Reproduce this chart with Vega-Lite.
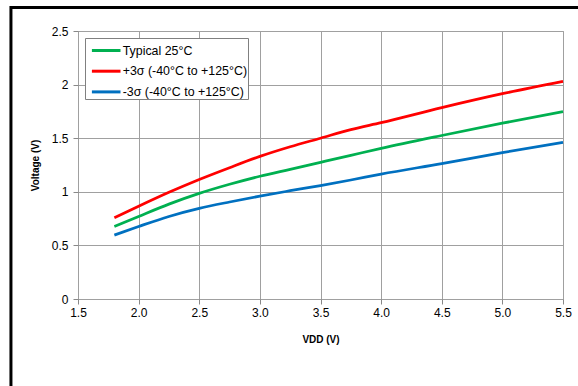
{
  "$schema": "https://vega.github.io/schema/vega-lite/v6.json",
  "autosize": {"type": "none"},
  "padding": {"left": 78, "top": 31, "right": 15, "bottom": 87},
  "width": 485,
  "height": 268,
  "background": "white",
  "config": {
    "font": "Liberation Sans",
    "view": {"stroke": "#a0a0a0", "strokeWidth": 1}
  },
  "data": {
    "values": [
      {"vdd": 1.8, "v": 0.676, "series": "Typical 25°C"},
      {"vdd": 2.0, "v": 0.77, "series": "Typical 25°C"},
      {"vdd": 2.25, "v": 0.885, "series": "Typical 25°C"},
      {"vdd": 2.5, "v": 0.985, "series": "Typical 25°C"},
      {"vdd": 2.75, "v": 1.07, "series": "Typical 25°C"},
      {"vdd": 3.0, "v": 1.145, "series": "Typical 25°C"},
      {"vdd": 3.25, "v": 1.21, "series": "Typical 25°C"},
      {"vdd": 3.5, "v": 1.275, "series": "Typical 25°C"},
      {"vdd": 3.75, "v": 1.34, "series": "Typical 25°C"},
      {"vdd": 4.0, "v": 1.405, "series": "Typical 25°C"},
      {"vdd": 4.5, "v": 1.525, "series": "Typical 25°C"},
      {"vdd": 5.0, "v": 1.64, "series": "Typical 25°C"},
      {"vdd": 5.5, "v": 1.747, "series": "Typical 25°C"},
      {"vdd": 1.8, "v": 0.757, "series": "+3σ (-40°C to +125°C)"},
      {"vdd": 2.0, "v": 0.865, "series": "+3σ (-40°C to +125°C)"},
      {"vdd": 2.25, "v": 0.995, "series": "+3σ (-40°C to +125°C)"},
      {"vdd": 2.5, "v": 1.115, "series": "+3σ (-40°C to +125°C)"},
      {"vdd": 2.75, "v": 1.225, "series": "+3σ (-40°C to +125°C)"},
      {"vdd": 3.0, "v": 1.33, "series": "+3σ (-40°C to +125°C)"},
      {"vdd": 3.25, "v": 1.42, "series": "+3σ (-40°C to +125°C)"},
      {"vdd": 3.5, "v": 1.5, "series": "+3σ (-40°C to +125°C)"},
      {"vdd": 3.75, "v": 1.58, "series": "+3σ (-40°C to +125°C)"},
      {"vdd": 4.0, "v": 1.645, "series": "+3σ (-40°C to +125°C)"},
      {"vdd": 4.5, "v": 1.785, "series": "+3σ (-40°C to +125°C)"},
      {"vdd": 5.0, "v": 1.915, "series": "+3σ (-40°C to +125°C)"},
      {"vdd": 5.5, "v": 2.03, "series": "+3σ (-40°C to +125°C)"},
      {"vdd": 1.8, "v": 0.596, "series": "-3σ (-40°C to +125°C)"},
      {"vdd": 2.0, "v": 0.676, "series": "-3σ (-40°C to +125°C)"},
      {"vdd": 2.25, "v": 0.77, "series": "-3σ (-40°C to +125°C)"},
      {"vdd": 2.5, "v": 0.845, "series": "-3σ (-40°C to +125°C)"},
      {"vdd": 2.75, "v": 0.905, "series": "-3σ (-40°C to +125°C)"},
      {"vdd": 3.0, "v": 0.96, "series": "-3σ (-40°C to +125°C)"},
      {"vdd": 3.25, "v": 1.01, "series": "-3σ (-40°C to +125°C)"},
      {"vdd": 3.5, "v": 1.058, "series": "-3σ (-40°C to +125°C)"},
      {"vdd": 3.75, "v": 1.11, "series": "-3σ (-40°C to +125°C)"},
      {"vdd": 4.0, "v": 1.165, "series": "-3σ (-40°C to +125°C)"},
      {"vdd": 4.5, "v": 1.263, "series": "-3σ (-40°C to +125°C)"},
      {"vdd": 5.0, "v": 1.365, "series": "-3σ (-40°C to +125°C)"},
      {"vdd": 5.5, "v": 1.462, "series": "-3σ (-40°C to +125°C)"}
    ]
  },
  "layer": [
    {
      "mark": {"type": "line", "strokeWidth": 2.75, "interpolate": "monotone"},
      "encoding": {
        "x": {
          "field": "vdd", "type": "quantitative",
          "scale": {"domain": [1.5, 5.5], "nice": false, "zero": false},
          "axis": {
            "title": "VDD (V)", "values": [1.5, 2, 2.5, 3, 3.5, 4, 4.5, 5, 5.5],
            "format": ".1f", "labelFontSize": 12, "labelColor": "#000", "labelFlush": false,
            "labelPadding": 3, "tickSize": 5, "tickColor": "#888", "domain": false,
            "gridColor": "#a0a0a0", "gridOpacity": 1,
            "titleFontSize": 10, "titleFontWeight": "bold", "titleColor": "#000", "titlePadding": 16
          }
        },
        "y": {
          "field": "v", "type": "quantitative",
          "scale": {"domain": [0, 2.5], "nice": false},
          "axis": {
            "title": "Voltage (V)", "values": [0, 0.5, 1, 1.5, 2, 2.5],
            "format": "~g", "labelFontSize": 12, "labelColor": "#000", "labelFlush": false,
            "labelPadding": 5, "tickSize": 5, "tickColor": "#888", "domain": false,
            "gridColor": "#a0a0a0", "gridOpacity": 1,
            "titleFontSize": 10, "titleFontWeight": "bold", "titleColor": "#000", "titlePadding": 11
          }
        },
        "color": {
          "field": "series", "type": "nominal",
          "scale": {
            "domain": ["Typical 25°C", "+3σ (-40°C to +125°C)", "-3σ (-40°C to +125°C)"],
            "range": ["#00b050", "#ff0000", "#0070c0"]
          },
          "legend": {
            "title": null, "orient": "none", "legendX": 7, "legendY": 7,
            "symbolType": "M-1.3,0H1.3", "symbolSize": 484, "symbolStrokeWidth": 3,
            "rowPadding": 1.7, "padding": 0, "symbolOffset": 8.7, "labelOffset": 4,
            "labelFontSize": 12.4, "labelColor": "#000", "labelLimit": 300,
            "labelExpr": "datum.label + '\u00a0\u00a0'",
            "fillColor": "white", "strokeColor": "#808080"
          }
        }
      }
    },
    {
      "data": {"values": [{}]},
      "mark": {"type": "rect", "fill": null, "fillOpacity": 0, "stroke": "black", "strokeWidth": 3, "clip": false},
      "encoding": {
        "x": {"datum": 0.947, "type": "quantitative"},
        "x2": {"datum": 7},
        "y": {"datum": 2.72, "type": "quantitative"},
        "y2": {"datum": -1}
      }
    }
  ]
}
